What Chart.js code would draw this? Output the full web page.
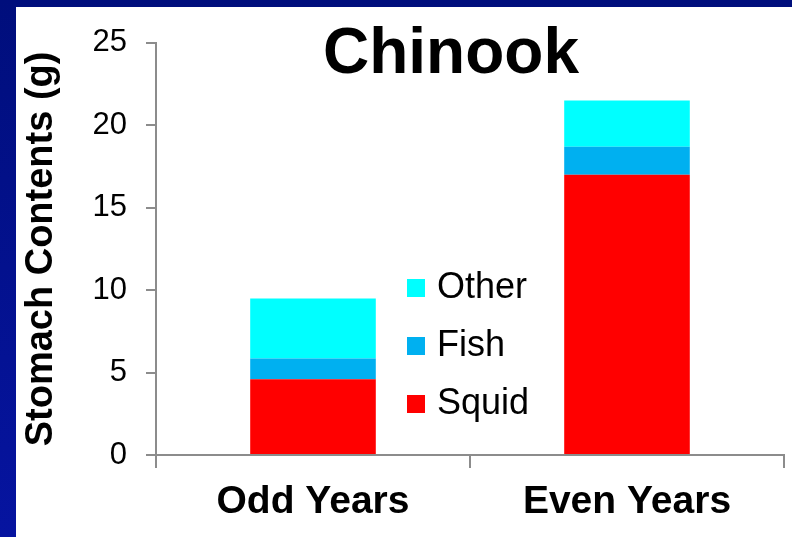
<!DOCTYPE html>
<html>
<head>
<meta charset="utf-8">
<script src="https://cdn.jsdelivr.net/npm/chart.js@4.4.1/dist/chart.umd.min.js"></script>
<style>
  html, body { margin: 0; padding: 0; }
  body {
    width: 792px; height: 537px; overflow: hidden; position: relative;
    background: linear-gradient(to bottom, #000e7c 0%, #0614a0 100%);
  }
  #panel {
    position: absolute; left: 16px; top: 7px; width: 776px; height: 530px;
    background: #ffffff;
  }
  #chart { display: block; }
</style>
</head>
<body>
<div id="panel"><canvas id="chart" width="776" height="530"></canvas></div>
<script>
// Stomach contents (g) of Chinook salmon, by year type
const categories = ['Odd Years', 'Even Years'];
const squid = [4.6, 17.0];
const fish  = [1.25, 1.7];
const other = [3.65, 2.8];
const yTicks = [0, 5, 10, 15, 20, 25];

const FONT = "'Liberation Sans', Arial, Helvetica, sans-serif";

// Title drawn over the plot area
const titlePlugin = {
  id: 'overlayTitle',
  afterDraw(chart) {
    const ctx = chart.ctx;
    ctx.save();
    ctx.font = 'bold 64px ' + FONT;
    ctx.fillStyle = '#000000';
    ctx.textAlign = 'center';
    ctx.textBaseline = 'alphabetic';
    ctx.fillText('Chinook', 435, 66);
    ctx.restore();
  }
};

// Vertical legend inside the plot, top-most stack segment listed first
const legendPlugin = {
  id: 'stackLegend',
  afterDraw(chart) {
    const ctx = chart.ctx;
    const sets = chart.data.datasets.slice().reverse();
    ctx.save();
    ctx.font = '36px ' + FONT;
    ctx.textAlign = 'left';
    ctx.textBaseline = 'alphabetic';
    sets.forEach((ds, i) => {
      const base = 291 + i * 58;
      ctx.fillStyle = ds.backgroundColor;
      ctx.fillRect(391, base - 19, 18, 18);
      ctx.fillStyle = '#000000';
      ctx.fillText(ds.label, 421, base);
    });
    ctx.restore();
  }
};

new Chart(document.getElementById('chart'), {
  type: 'bar',
  data: {
    labels: categories,
    datasets: [
      { label: 'Squid', data: squid, backgroundColor: '#ff0000' },
      { label: 'Fish',  data: fish,  backgroundColor: '#00b0f0' },
      { label: 'Other', data: other, backgroundColor: '#00ffff' }
    ]
  },
  options: {
    responsive: false,
    animation: false,
    devicePixelRatio: 1,
    layout: { padding: { top: 30, right: 8, left: 0, bottom: 0 } },
    datasets: { bar: { categoryPercentage: 1.0, barPercentage: 0.4, borderWidth: 0 } },
    plugins: {
      legend: { display: false },
      title: { display: false },
      tooltip: { enabled: false }
    },
    scales: {
      x: {
        stacked: true,
        grid: {
          offset: true,
          drawOnChartArea: false,
          drawTicks: true,
          tickLength: 13,
          color: '#8c8c8c',
          lineWidth: 2
        },
        border: { display: true, color: '#8c8c8c', width: 2 },
        ticks: {
          color: '#000000',
          font: { family: FONT, size: 39, weight: 'bold' },
          padding: 11,
          maxRotation: 0
        },
        afterFit(scale) { scale.height = 82; }
      },
      y: {
        stacked: true,
        min: 0,
        max: 25,
        afterBuildTicks(scale) { scale.ticks = yTicks.map(v => ({ value: v })); },
        grid: {
          drawOnChartArea: false,
          drawTicks: true,
          tickLength: 10,
          color: '#8c8c8c',
          lineWidth: 2
        },
        border: { display: true, color: '#8c8c8c', width: 2 },
        ticks: {
          color: '#000000',
          font: { family: FONT, size: 31, lineHeight: 1.09 },
          padding: 19
        },
        title: {
          display: true,
          text: 'Stomach Contents (g)',
          color: '#000000',
          font: { family: FONT, size: 38, weight: 'bold' },
          padding: { top: 3, bottom: 0 }
        },
        afterFit(scale) { scale.width = 140; }
      }
    }
  },
  plugins: [titlePlugin, legendPlugin]
});
</script>
</body>
</html>
